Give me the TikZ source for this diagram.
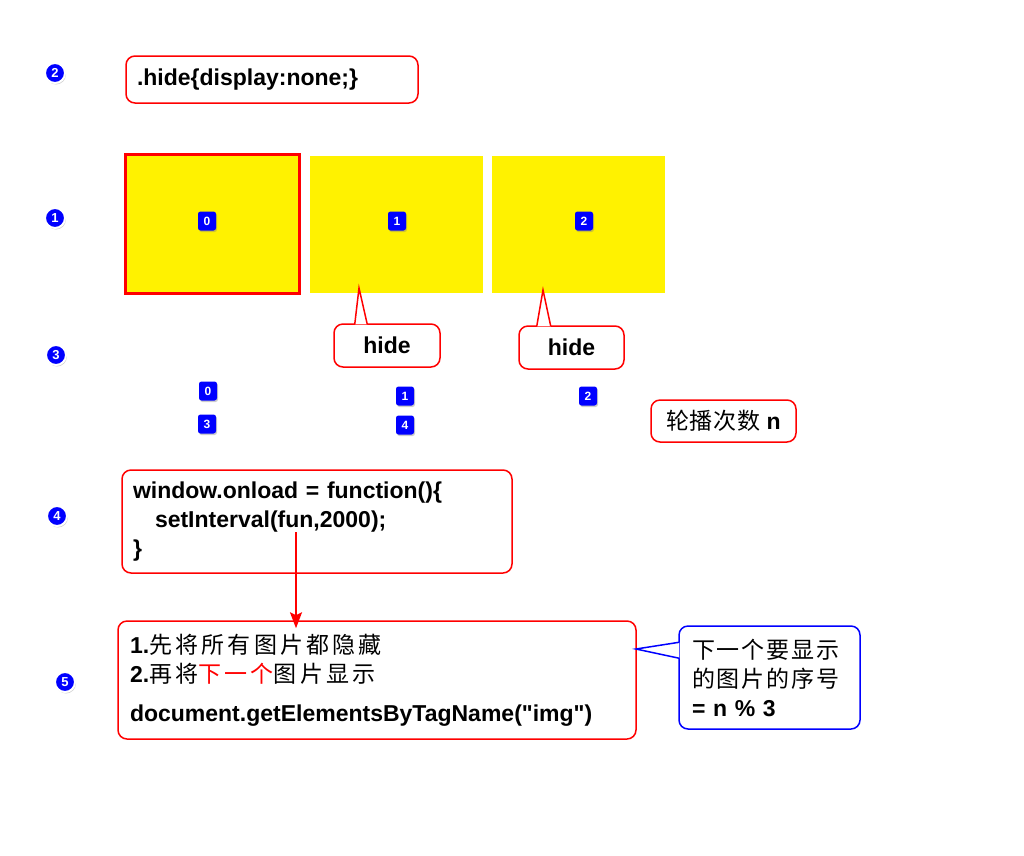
\documentclass[tikz,border=0pt]{standalone}
\usepackage{fontspec}
\setmainfont{Liberation Sans}[Ligatures=TeXOff]
\newfontfamily\cjk[LetterSpace=14]{Noto Sans CJK SC}
\newfontfamily\cjkn[LetterSpace=3]{Noto Sans CJK SC}
\newfontfamily\cjkm[LetterSpace=8]{Noto Sans CJK SC}
\usetikzlibrary{arrows.meta,calc,shadows}

\begin{document}
\begin{tikzpicture}[x=1pt,y=-1pt,
	stepnum/.style={circle,fill=blue,draw=white,line width=2pt,inner sep=0pt,minimum size=20pt,
		text=white,font=\fontsize{13}{13}\selectfont\bfseries,
		drop shadow={opacity=0.35,shadow xshift=1pt,shadow yshift=-1.5pt}},
	idx/.style={rectangle,rounded corners=2.5pt,fill=blue,inner sep=0pt,minimum width=18pt,minimum height=19pt,
		text=white,font=\fontsize{12}{12}\selectfont\bfseries,
		drop shadow={opacity=0.4,shadow xshift=1pt,shadow yshift=-1.5pt}},
	slide/.style={rectangle,fill=yellow,inner sep=0pt,minimum width=173pt,minimum height=137pt},
	redbox/.style={rectangle,draw=red,line width=1.5pt,rounded corners=9pt,fill=white,inner ysep=0pt,
		font=\fontsize{23}{29}\selectfont\bfseries},
	bluebox/.style={redbox,draw=blue}]
	\useasboundingbox (0,0) rectangle (1024,855);

	\node[stepnum] (n2) at (55,73)  {2};
	\node[stepnum] (n1) at (55,218) {1};
	\node[stepnum] (n3) at (56,355) {3};
	\node[stepnum] (n4) at (57,516) {4};
	\node[stepnum] (n5) at (65,682) {5};

	\node[redbox,text width=270pt,inner xsep=11pt,minimum height=47pt,align=left] (hidecss) at (272,79.5) {.hide\{display:none;\}};

	\node[slide,draw=red,line width=3pt,minimum width=174pt,minimum height=139pt] (img0) at (212.5,224) {};
	\node[slide] (img1) at (396.5,224.5) {};
	\node[slide] (img2) at (578.5,224.5) {};
	\node[idx] (i0) at (207,221) {0};
	\node[idx] (i1) at (397,221) {1};
	\node[idx] (i2) at (584,221) {2};

	\coordinate (tipA) at (359,288);
	\coordinate (tipB) at (543,290);
	\node[redbox,minimum width=106pt,minimum height=43pt] (hideA) at (387,345.5) {hide};
	\node[redbox,minimum width=105pt,minimum height=43pt] (hideB) at (571.5,347.5) {hide};
	\draw[red,line width=1.5pt,fill=white] ($(hideA.north west)+(21.5,1)$) -- (tipA) -- ($(hideA.north west)+(34,1)$);
	\draw[red,line width=1.5pt,fill=white] ($(hideB.north west)+(18.5,1)$) -- (tipB) -- ($(hideB.north west)+(32.5,1)$);

	\node[idx] (c0) at (208,391) {0};
	\node[idx] (c3) at (207,424) {3};
	\node[idx] (c1) at (405,396) {1};
	\node[idx] (c4) at (405,425) {4};
	\node[idx] (c2) at (588,396) {2};

	\node[redbox,minimum width=145pt,minimum height=42pt] (count) at (723.5,421) {{\cjkn\mdseries 轮播次数} n};

	\node[redbox,text width=368pt,inner xsep=11pt,minimum height=103pt,align=left] (code) at (317,521.5)
		{window.onload = function()\{\\\hspace*{22pt}setInterval(fun,2000);\\\}};

	\node[redbox,text width=494pt,inner xsep=12pt,minimum height=118pt,align=left] (steps) at (377,680)
		{1.{\cjk\mdseries 先将所有图片都隐藏}\\2.{\cjk\mdseries 再将\textcolor{red}{下一个}图片显示}\\[10pt]document.getElementsByTagName("img")};

	\node[bluebox,text width=155pt,inner xsep=13pt,minimum height=103pt,align=left] (note) at (769.5,677.5)
		{{\cjkm\mdseries 下一个要显示}\\{\cjkm\mdseries 的图片的序号}\\= n \% 3};
	\coordinate (tipN) at (636,649);
	\draw[blue,line width=1.5pt,fill=white] ($(note.north west)+(1,17)$) -- (tipN) -- ($(note.north west)+(1,33)$);

	\coordinate (fun) at (296,532);
	\draw[red,line width=2pt,-{Stealth[length=16pt,width=12pt,inset=3pt]}] (fun) -- ($(steps.north -| fun)+(0,8)$);
\end{tikzpicture}
\end{document}
